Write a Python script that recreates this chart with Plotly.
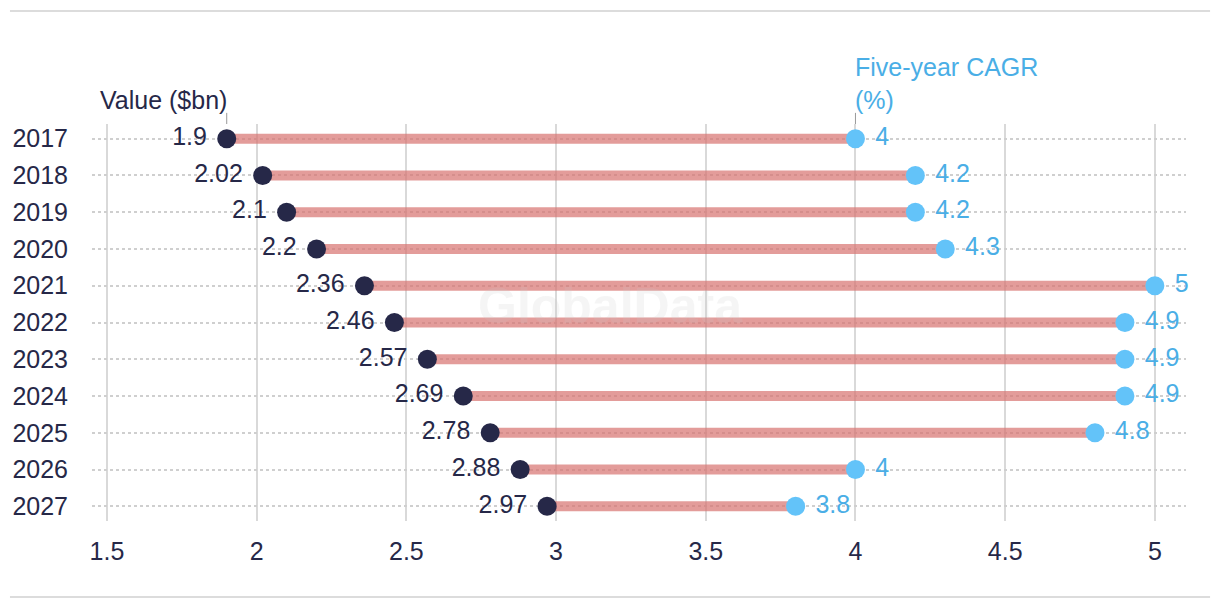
import plotly.graph_objects as go

years = ["2017", "2018", "2019", "2020", "2021", "2022", "2023", "2024", "2025", "2026", "2027"]
value_bn = [1.9, 2.02, 2.1, 2.2, 2.36, 2.46, 2.57, 2.69, 2.78, 2.88, 2.97]
cagr_pct = [4, 4.2, 4.2, 4.3, 5, 4.9, 4.9, 4.9, 4.8, 4, 3.8]
x_ticks = [1.5, 2, 2.5, 3, 3.5, 4, 4.5, 5]

DARK = "#262848"
BLUE = "#63C3F9"
BLUE_TXT = "#4AAEE6"
FONT = "Liberation Sans"
FS = 25

seg_x, seg_y = [], []
for yr, v, c in zip(years, value_bn, cagr_pct):
    seg_x += [v, c, None]
    seg_y += [yr, yr, None]

fig = go.Figure()
fig.add_trace(go.Scatter(x=seg_x, y=seg_y, mode="lines",
                         line=dict(color="rgba(215,114,111,0.7)", width=10),
                         hoverinfo="skip", showlegend=False))
fig.add_trace(go.Scatter(x=value_bn, y=years, mode="markers+text",
                         marker=dict(size=19, color=DARK),
                         text=[f"{v:g} " for v in value_bn], textposition="middle left",
                         textfont=dict(size=FS, color=DARK, family=FONT),
                         cliponaxis=False, showlegend=False, name="Value ($bn)"))
fig.add_trace(go.Scatter(x=cagr_pct, y=years, mode="markers+text",
                         marker=dict(size=19, color=BLUE),
                         text=[f" {c:g}" for c in cagr_pct], textposition="middle right",
                         textfont=dict(size=FS, color=BLUE_TXT, family=FONT),
                         cliponaxis=False, showlegend=False, name="Five-year CAGR (%)"))

fig.update_layout(
    width=1204, height=594,
    margin=dict(l=84, r=26, t=116, b=81),
    paper_bgcolor="white", plot_bgcolor="white",
    font=dict(family=FONT, size=FS, color=DARK),
    xaxis=dict(range=[1.45, 5.104], tickvals=x_ticks, ticktext=[f"{t:g}" for t in x_ticks],
               showgrid=True, gridcolor="#d9d9d9", gridwidth=2, zeroline=False,
               showline=False, ticks="", ticklabelstandoff=13, automargin=False,
               tickfont=dict(size=FS, color=DARK, family=FONT)),
    yaxis=dict(type="category", categoryorder="array", categoryarray=years,
               range=[10.4, -0.4], showgrid=True, gridcolor="#cfcfcf", gridwidth=1.5,
               griddash="dot", zeroline=False, showline=False, ticks="", automargin=False,
               ticklabelstandoff=23, tickfont=dict(size=FS, color=DARK, family=FONT)),
    shapes=[
        dict(type="line", xref="x", yref="paper", x0=1.9, x1=1.9, y0=1.0, y1=1.028,
             line=dict(color="#999999", width=1)),
        dict(type="line", xref="x", yref="paper", x0=4, x1=4, y0=1.0, y1=1.028,
             line=dict(color="#999999", width=1)),
        dict(type="line", xref="paper", yref="paper", x0=-0.075, x1=1.022, y0=1.2846, y1=1.2846,
             line=dict(color="#dcdcdc", width=2)),
        dict(type="line", xref="paper", yref="paper", x0=-0.075, x1=1.022, y0=-0.1914, y1=-0.1914,
             line=dict(color="#dcdcdc", width=2)),
    ],
    annotations=[
        dict(text="Value ($bn)", x=1.9, xref="x", y=1.0, yref="paper", yanchor="bottom",
             xanchor="right", xshift=2, yshift=8, showarrow=False,
             font=dict(size=FS, color=DARK, family=FONT)),
        dict(text="Five-year CAGR<br>(%)", x=4, xref="x", y=1.0, yref="paper", yanchor="bottom",
             xanchor="left", align="left", xshift=-2, yshift=8, showarrow=False,
             font=dict(size=FS, color=BLUE_TXT, family=FONT)),
        dict(text="<b>GlobalData</b>", x=0.4735, xref="paper", y=0.5416, yref="paper",
             showarrow=False, font=dict(size=50, color="rgba(200,200,200,0.18)", family=FONT)),
    ],
)

fig.write_html("out.html")
